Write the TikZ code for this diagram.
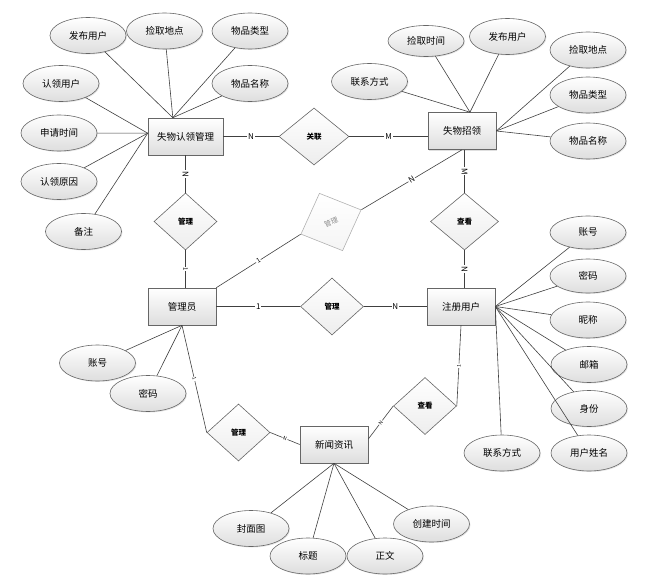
\documentclass[tikz,border=0pt]{standalone}
\usepackage{fontspec}
\setmainfont{Noto Sans CJK SC}
\usetikzlibrary{shapes.geometric,shadows}
\tikzset{%
  % Specifications for style of nodes:
        base/.style = {draw=black!60, line width=0.6pt, text centered,
                       top color=white, bottom color=black!13},
      entity/.style = {base, rectangle, minimum width=68pt, minimum height=37pt,
                       font=\fontsize{9.5}{11}\selectfont,
                       drop shadow={shadow xshift=1.2pt, shadow yshift=-1.2pt, opacity=0.25}},
        attr/.style = {base, ellipse, minimum width=76pt, minimum height=36pt,
                       font=\fontsize{9.5}{11}\selectfont,
                       drop shadow={shadow xshift=1pt, shadow yshift=-1pt, opacity=0.2}},
         rel/.style = {base, diamond, minimum width=63pt, minimum height=57pt,
                       inner sep=0pt, bottom color=black!7,
                       font=\fontsize{7.5}{9}\selectfont\bfseries},
        card/.style = {fill=white, inner sep=0.8pt, font=\fontsize{8}{9}\selectfont},
       cards/.style = {card, font=\fontsize{5}{6}\selectfont},
        link/.style = {draw=black!75, line width=0.6pt}
}

\begin{document}
\begin{tikzpicture}[x=1pt, y=-1pt]
  \useasboundingbox (0,0) rectangle (666,588);
  % Specification of entities
  \node (lc)   [entity, minimum width=75pt] at (185.5,136.5) {失物认领管理};
  \node (sf)   [entity] at (462,131)   {失物招领};
  \node (adm)  [entity] at (182,306.5) {管理员};
  \node (reg)  [entity] at (461,306.5) {注册用户};
  \node (news) [entity] at (334,444.5) {新闻资讯};

  % relations
  \node (gl)  [rel, minimum width=70pt] at (314,136.5)   {关联};
  \node (m1)  [rel] at (185.5,221.5) {管理};
  \node (ck1) [rel, minimum width=68pt] at (464.5,221.5) {查看};
  \node (m2)  [rel] at (332,306.5)   {管理};
  \node (m3)  [rel] at (238.5,432.5) {管理};
  \node (ck2) [rel] at (425,406)     {查看};
  \node (rd)  [rel, draw=black!30, text=black!45, bottom color=black!4,
               font=\fontsize{7}{8}\selectfont,
               rotate=22, minimum width=65pt, minimum height=62pt] at (331,222) {管理};

  % attributes of 失物认领管理
  \node (lc1) [attr] at (88,35.5)    {发布用户};
  \node (lc2) [attr] at (164.5,31)   {捡取地点};
  \node (lc3) [attr] at (250,31)     {物品类型};
  \node (lc4) [attr] at (250,83.5)   {物品名称};
  \node (lc5) [attr] at (61,83.5)    {认领用户};
  \node (lc6) [attr] at (59,133)     {申请时间};
  \node (lc7) [attr] at (59,181.5)   {认领原因};
  \node (lc8) [attr] at (83.5,231.5) {备注};

  % attributes of 失物招领
  \node (sf1) [attr, minimum height=31pt] at (426,41) {捡取时间};
  \node (sf2) [attr] at (507.5,36.5) {发布用户};
  \node (sf3) [attr] at (369.5,81.5) {联系方式};
  \node (sf4) [attr] at (588,50)     {捡取地点};
  \node (sf5) [attr] at (588,95)     {物品类型};
  \node (sf6) [attr] at (588,141)    {物品名称};

  % attributes of 管理员
  \node (ad1) [attr] at (97.5,363)   {账号};
  \node (ad2) [attr] at (148,393.5)  {密码};

  % attributes of 注册用户
  \node (rg1) [attr, minimum height=33pt] at (588,232.5) {账号};
  \node (rg2) [attr, minimum height=34pt] at (588,276)   {密码};
  \node (rg3) [attr] at (588,320)    {昵称};
  \node (rg4) [attr] at (589,364.5)  {邮箱};
  \node (rg5) [attr] at (589,408.5)  {身份};
  \node (rg6) [attr] at (589,453)    {用户姓名};
  \node (rg7) [attr] at (502,453)    {联系方式};

  % attributes of 新闻资讯
  \node (nw1) [attr] at (251,528.5)  {封面图};
  \node (nw2) [attr] at (308,556)    {标题};
  \node (nw3) [attr] at (385,556)    {正文};
  \node (nw4) [attr] at (431.5,524)  {创建时间};

  % attribute links
  \draw[link] (lc1) -- (lc.124);
  \draw[link] (lc2) -- (lc.124);
  \draw[link] (lc3) -- (lc.124);
  \draw[link] (lc4) -- (lc.124);
  \draw[link] (lc5) -- (lc.175);
  \draw[link] (lc6) -- (lc.175);
  \draw[link] (lc7) -- (lc.175);
  \draw[link] (lc8) -- (lc.175);

  \draw[link] (sf1) -- (sf.67);
  \draw[link] (sf2) -- (sf.67);
  \draw[link] (sf3) -- (sf.67);
  \draw[link] (sf4) -- (sf.east);
  \draw[link] (sf5) -- (sf.east);
  \draw[link] (sf6) -- (sf.east);

  \draw[link] (ad1) -- (adm.south);
  \draw[link] (ad2) -- (adm.south);

  \draw[link] (rg1) -- (reg.east);
  \draw[link] (rg2) -- (reg.east);
  \draw[link] (rg3) -- (reg.east);
  \draw[link] (rg4) -- (reg.east);
  \draw[link] (rg5) -- (reg.east);
  \draw[link] (rg6) -- (reg.east);
  \draw[link] (rg7) -- (reg.east);

  \draw[link] (nw1) -- (news.south);
  \draw[link] (nw2) -- (news.south);
  \draw[link] (nw3) -- (news.south);
  \draw[link] (nw4) -- (news.south);

  % relation links with cardinalities
  \draw[link] (lc.east) -- node[card] {N} (gl.west);
  \draw[link] (gl.east) -- node[card] {M} (gl.east -| sf.west);
  \draw[link] (lc.south) -- node[card, sloped] {N} (m1.north);
  \draw[link] (m1.south) -- node[card, sloped, font=\fontsize{6}{7}\selectfont] {1} (m1.south |- adm.north);
  \draw[link] (ck1.north |- sf.south) -- node[card, sloped] {M} (ck1.north);
  \draw[link] (ck1.south) -- node[card, sloped] {N} (ck1.south |- reg.north);
  \draw[link] (adm.east) -- node[card] {1} (m2.west);
  \draw[link] (m2.east) -- node[card] {N} (reg.west);
  \draw[link] (adm.north east) -- node[card, sloped, font=\fontsize{6.5}{7}\selectfont] {1} (rd.west);
  \draw[link] (rd.east) -- node[card, sloped] {N} (sf.south);
  \draw[link] (adm.south) -- node[cards, sloped] {1} (m3.west);
  \draw[link] (m3.east) -- node[cards, sloped] {N} (news.west);
  \draw[link] (reg.south) -- node[cards, sloped] {1} (ck2.east);
  \draw[link] (ck2.west) -- node[cards, sloped] {N} (news.9);
\end{tikzpicture}
\end{document}
